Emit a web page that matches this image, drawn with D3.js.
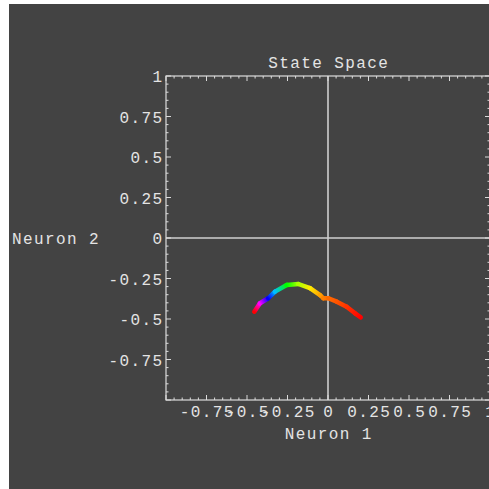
<!DOCTYPE html>
<html>
<head>
<meta charset="utf-8">
<script src="https://cdn.jsdelivr.net/npm/d3@7"></script>
<style>
  body { margin: 0; background: #ffffff; }
  text { font-family: "Liberation Mono", "DejaVu Sans Mono", monospace; font-size: 16px; fill: #e4e4e4; letter-spacing: 1.4px; }
</style>
</head>
<body>
<div id="main"></div>
<script>
// trajectory in state space (neuron 1, neuron 2) and hue of each sample
const neuron1 = [-0.455, -0.42, -0.369, -0.327, -0.255, -0.183, -0.111, -0.049, -0.029, 0.002, 0.054, 0.115, 0.167, 0.202];
const neuron2 = [-0.455, -0.403, -0.372, -0.331, -0.29, -0.284, -0.31, -0.352, -0.372, -0.372, -0.393, -0.424, -0.465, -0.49];
const hues = [360, 300, 240, 195, 120, 80, 55, 38, 30, 25, 20, 12, 5, 0];

const tickValues = [-0.75, -0.5, -0.25, 0, 0.25, 0.5, 0.75, 1];
const tickLabels = ['-0.75', '-0.5', '-0.25', '0', '0.25', '0.5', '0.75', '1'];
const minorTicks = d3.range(-20, 21).map((i) => i / 20);

const width = 489;
const height = 489;
const plot = { left: 166, top: 76, size: 324 };

const svg = d3.select('#main')
  .append('svg')
  .attr('width', width)
  .attr('height', height);

// dark panel
svg.append('rect')
  .attr('x', 9)
  .attr('y', 4)
  .attr('width', width - 9)
  .attr('height', height - 4)
  .attr('fill', '#434343');

const xScale = d3.scaleLinear().domain([-1, 1]).range([plot.left, plot.left + plot.size]);
const yScale = d3.scaleLinear().domain([-1, 1]).range([plot.top + plot.size, plot.top]);

const lineColor = '#dcdcdc';

// zero lines
svg.append('line')
  .attr('x1', xScale(-1)).attr('x2', xScale(1))
  .attr('y1', yScale(0)).attr('y2', yScale(0))
  .attr('stroke', '#cfcfcf').attr('stroke-width', 1.6);
svg.append('line')
  .attr('x1', xScale(0)).attr('x2', xScale(0))
  .attr('y1', yScale(-1)).attr('y2', yScale(1))
  .attr('stroke', '#cfcfcf').attr('stroke-width', 1.6);

// frame
svg.append('rect')
  .attr('x', xScale(-1))
  .attr('y', yScale(1))
  .attr('width', plot.size)
  .attr('height', plot.size)
  .attr('fill', 'none')
  .attr('stroke', lineColor)
  .attr('stroke-width', 1.2);

// inward ticks on all four sides
const isMajor = (v) => Math.abs(v * 4 - Math.round(v * 4)) < 1e-9;
const tickLen = (v) => (isMajor(v) ? 5 : 2.5);
const ticks = svg.append('g').attr('stroke', lineColor).attr('stroke-width', 1);

ticks.selectAll('.bt').data(minorTicks).enter().append('line')
  .attr('x1', (d) => xScale(d)).attr('x2', (d) => xScale(d))
  .attr('y1', yScale(-1)).attr('y2', (d) => yScale(-1) - tickLen(d));
ticks.selectAll('.tt').data(minorTicks).enter().append('line')
  .attr('x1', (d) => xScale(d)).attr('x2', (d) => xScale(d))
  .attr('y1', yScale(1)).attr('y2', (d) => yScale(1) + tickLen(d));
ticks.selectAll('.lt').data(minorTicks).enter().append('line')
  .attr('y1', (d) => yScale(d)).attr('y2', (d) => yScale(d))
  .attr('x1', xScale(-1)).attr('x2', (d) => xScale(-1) + tickLen(d));
ticks.selectAll('.rt').data(minorTicks).enter().append('line')
  .attr('y1', (d) => yScale(d)).attr('y2', (d) => yScale(d))
  .attr('x1', xScale(1)).attr('x2', (d) => xScale(1) - tickLen(d));

// tick labels
svg.append('g').selectAll('text')
  .data(tickValues)
  .enter()
  .append('text')
  .attr('x', (d) => xScale(d) + 0.7)
  .attr('y', yScale(-1) + 17)
  .attr('text-anchor', 'middle')
  .text((d, i) => tickLabels[i]);

svg.append('g').selectAll('text')
  .data(tickValues)
  .enter()
  .append('text')
  .attr('x', xScale(-1) - 2.6)
  .attr('y', (d) => yScale(d) + 6)
  .attr('text-anchor', 'end')
  .text((d, i) => tickLabels[i]);

// titles
svg.append('text')
  .attr('x', xScale(0) + 0.7)
  .attr('y', 68)
  .attr('text-anchor', 'middle')
  .text('State Space');
svg.append('text')
  .attr('x', xScale(0) + 0.7)
  .attr('y', 439)
  .attr('text-anchor', 'middle')
  .text('Neuron 1');
svg.append('text')
  .attr('x', 12)
  .attr('y', 244)
  .text('Neuron 2');

// trajectory: each segment coloured by a gradient between the hues of its ends
const points = neuron1.map((v, i) => ({ x: xScale(v), y: yScale(neuron2[i]), c: d3.hsl(hues[i] % 360, 1, 0.5) }));
const defs = svg.append('defs');
const segs = d3.pairs(points);

segs.forEach(([a, b], i) => {
  const g = defs.append('linearGradient')
    .attr('id', `seg${i}`)
    .attr('gradientUnits', 'userSpaceOnUse')
    .attr('x1', a.x).attr('y1', a.y)
    .attr('x2', b.x).attr('y2', b.y);
  g.append('stop').attr('offset', 0).attr('stop-color', a.c);
  g.append('stop').attr('offset', 1).attr('stop-color', b.c);
});

svg.append('g').selectAll('line')
  .data(segs)
  .enter()
  .append('line')
  .attr('x1', (d) => d[0].x).attr('y1', (d) => d[0].y)
  .attr('x2', (d) => d[1].x).attr('y2', (d) => d[1].y)
  .attr('stroke', (d, i) => `url(#seg${i})`)
  .attr('stroke-width', 4.5)
  .attr('stroke-linecap', 'round');
</script>
</body>
</html>
